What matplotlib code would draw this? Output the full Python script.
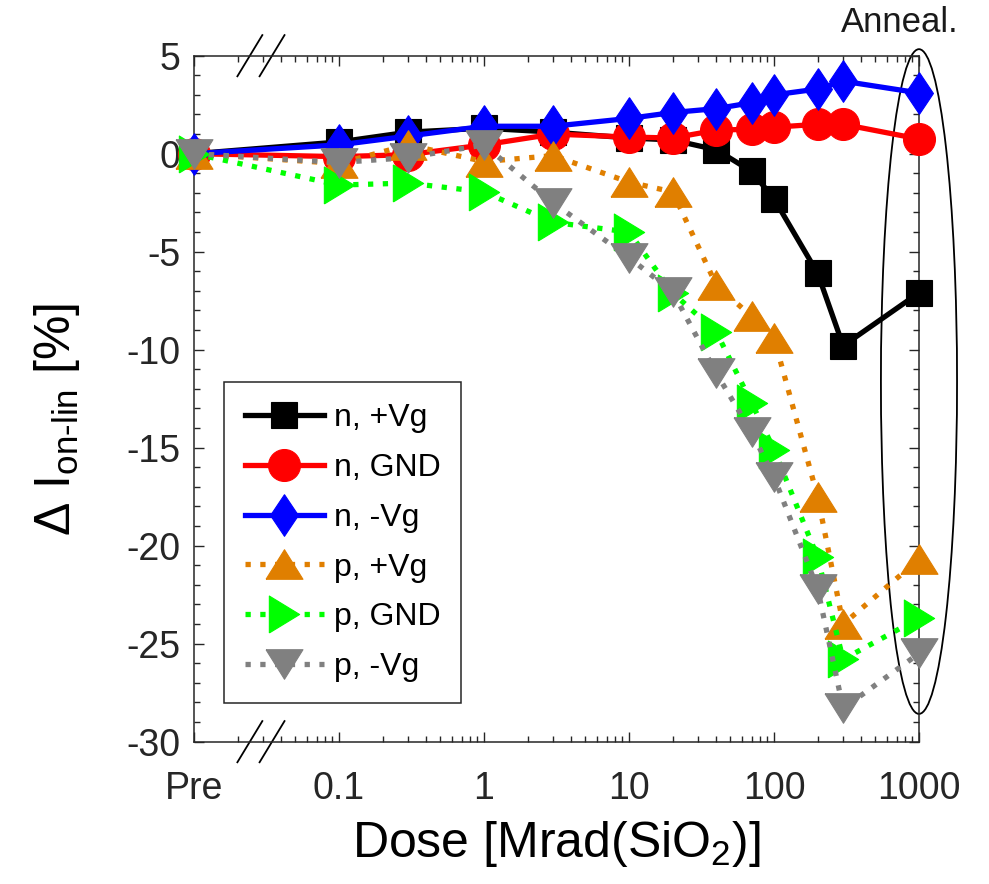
import numpy as np
import matplotlib
matplotlib.use('Agg')
import matplotlib.pyplot as plt
from matplotlib.patches import Ellipse
from matplotlib.lines import Line2D

plt.rcParams['font.family'] = ['Liberation Sans', 'DejaVu Sans']
plt.rcParams['mathtext.fontset'] = 'custom'
plt.rcParams['mathtext.rm'] = 'Liberation Sans'
plt.rcParams['mathtext.it'] = 'Liberation Sans'
plt.rcParams['mathtext.default'] = 'regular'
plt.rcParams['axes.unicode_minus'] = False

# dose steps in Mrad(SiO2); "Pre" sits at 0.01 on the log axis
dose = [0.01, 0.1, 0.3, 1, 3, 10, 20, 40, 70, 100, 200, 300, 1000]
dose_ticks = [0.01, 0.1, 1, 10, 100, 1000]
dose_labels = ['Pre', '0.1', '1', '10', '100', '1000']

# change of linear on-current [%], last point is after annealing
n_pos = [0, 0.6, 1.1, 1.3, 1.1, 0.8, 0.7, 0.2, -0.9, -2.3, -6.1, -9.8, -7.1]
n_gnd = [0, -0.15, -0.05, 0.45, 1.0, 0.85, 0.8, 1.2, 1.25, 1.35, 1.5, 1.5, 0.75]
n_neg = [0, 0.45, 0.9, 1.4, 1.4, 1.8, 2.1, 2.3, 2.6, 3.0, 3.3, 3.7, 3.1]
p_pos = [0, -0.5, 0.45, -0.4, -0.1, -1.45, -1.95, -6.7, -8.3, -9.4, -17.5, -24.0, -20.7]
p_gnd = [0, -1.6, -1.5, -1.95, -3.5, -4.0, -7.1, -9.1, -12.7, -15.1, -20.6, -25.8, -23.7]
p_neg = [0, -0.45, -0.2, 0.45, -2.5, -5.3, -7.05, -11.2, -14.2, -16.5, -22.2, -28.3, -25.5]

labels = ['n, +Vg', 'n, GND', 'n, -Vg', 'p, +Vg', 'p, GND', 'p, -Vg']

# marker shapes
diamond = [(0, 1), (0.67, 0), (0, -1), (-0.67, 0), (0, 1)]
tri_up = [(-1, -0.8), (1, -0.8), (0, 0.8), (-1, -0.8)]
tri_right = [(-0.82, -1), (0.82, 0), (-0.82, 1), (-0.82, -1)]
tri_down = [(-1, 0.8), (1, 0.8), (0, -0.8), (-1, 0.8)]

orange = '#e07f00'
dots = (0, (1, 1.8))

series = [
    (n_pos, 'black', 's', 19, '-'),
    (n_gnd, 'red', 'o', 23, '-'),
    (n_neg, 'blue', diamond, 30, '-'),
    (p_pos, orange, tri_up, 26.6, dots),
    (p_gnd, '#00ff00', tri_right, 26.6, dots),
    (p_neg, 'gray', tri_down, 26.6, dots),
]

fig = plt.figure(figsize=(9.89, 8.84), dpi=100)
ax = fig.add_axes([0.1962, 0.161, 0.733, 0.776])

for (vals, col, mk, ms, ls), lab in zip(series, labels):
    ax.plot(dose, vals, color=col, linestyle=ls, linewidth=3.8,
            marker=mk, markersize=ms, markerfacecolor=col,
            markeredgecolor=col, markeredgewidth=0.8,
            label=lab, clip_on=False, zorder=3)

ax.set_xscale('log')
ax.set_xlim(0.01, 1000)
ax.set_ylim(-30, 5)
ax.set_xticks(dose_ticks)
ax.set_xticklabels(dose_labels)
ax.set_yticks(np.arange(-30, 6, 5))
ax.set_yticks(np.arange(-30, 6, 1), minor=True)

ax.tick_params(which='both', direction='in', top=True, right=True,
               labelsize=27, colors='#262626', width=1)
ax.tick_params(which='major', length=7)
ax.tick_params(which='minor', length=4)
ax.tick_params(axis='x', which='major', pad=21)
ax.tick_params(axis='y', which='major', pad=10)
for sp in ax.spines.values():
    sp.set_color('#262626')
    sp.set_linewidth(1.1)

ax.set_xlabel('Dose [Mrad(SiO$_2$)]', fontsize=36)
ax.xaxis.set_label_coords(0.5, -0.112)
ax.set_ylabel('Δ I$_{\\text{on-lin}}$ [%]', fontsize=36)
ax.yaxis.set_label_coords(-0.155, 0.47)

# axis break marks next to "Pre"
for xb in (0.077, 0.1076):
    for yb in (0.0, 1.0):
        ax.add_line(Line2D([xb - 0.0172, xb + 0.0172], [yb - 0.03, yb + 0.03],
                           transform=ax.transAxes, color='black', lw=1.3,
                           clip_on=False))

# ring around the annealed points
ax.add_patch(Ellipse((1.0, 0.525), 0.105, 0.969, transform=ax.transAxes,
                     fill=False, edgecolor='black', lw=1.3, clip_on=False,
                     zorder=1))
fig.text(900 / 989, 1 - 22 / 884, 'Anneal.', fontsize=25, ha='center',
         va='center', color='#1a1a1a')

leg = ax.legend(loc='lower left', bbox_to_anchor=(0.041, 0.0564),
                borderaxespad=0, fontsize=23, numpoints=1, fancybox=False,
                framealpha=1, edgecolor='#262626', handlelength=2.5,
                handletextpad=0.3, labelspacing=0.62, borderpad=0.65)
leg.get_frame().set_linewidth(1.1)

plt.savefig('out.png', dpi=100)
